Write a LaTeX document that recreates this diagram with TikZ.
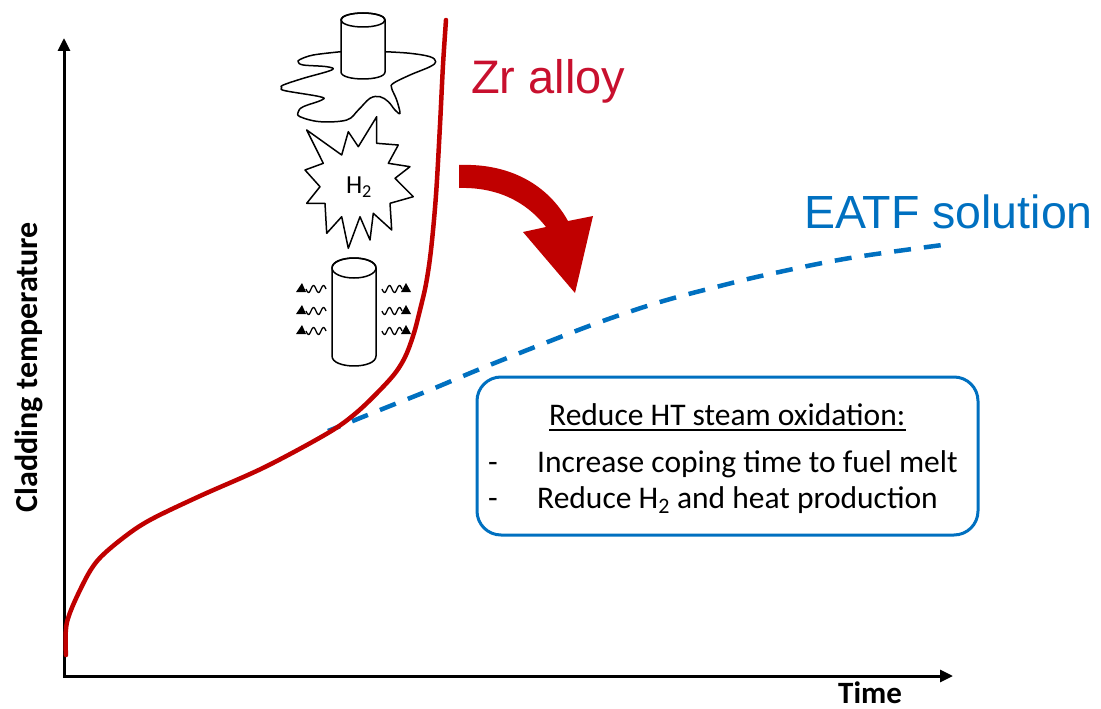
\documentclass[tikz,border=0pt]{standalone}
\usepackage{fontspec}
\setmainfont{Carlito}
\newfontfamily\arialf{Liberation Sans}
\usetikzlibrary{arrows.meta,calc}
\definecolor{cvred}{RGB}{192,0,0}
\definecolor{txred}{RGB}{200,16,46}
\definecolor{cvblue}{RGB}{0,112,192}
\tikzset{
  axisline/.style={line width=3pt, -{Triangle[length=13pt,width=12pt]}},
  icon/.style={line width=1.5pt, black, line join=round},
  wavy/.style={line width=1.3pt, black},
  boxtext/.style={inner sep=0pt, font=\fontsize{31.5}{34}\selectfont, anchor=base west},
}
\begin{document}
\begin{tikzpicture}[x=1pt,y=-1pt]
\useasboundingbox (0,0) rectangle (1101,709);
% axes
\coordinate (o) at (64,676);
\coordinate (ytip) at (64,38);
\coordinate (xtip) at (953,676);
\draw[axisline] (o) -- (ytip);
\draw[axisline] (o) -- (xtip);
\draw[line width=3pt] (64,677.5) -- (64,674);
\node[inner sep=0pt, anchor=base west, font=\bfseries\fontsize{31}{34}\selectfont] (time) at (838,703) {Time};
\node[inner sep=0pt, anchor=base, rotate=90, font=\bfseries\fontsize{32}{35}\selectfont] (ylab) at (37,367) {Cladding temperature};

% blue dashed EATF curve
\draw[cvblue, line width=4.5pt, dash pattern=on 17pt off 13pt, dash phase=4pt]
  plot[smooth, tension=0.6] coordinates {(328,431) (380,410) (430,390) (480,369) (540,345) (600,322) (660,302) (720,286) (770,274) (850,258) (950,244)};

% red Zr curve
\draw[cvred, line width=4.5pt, line cap=round]
  plot[smooth, tension=0.55] coordinates {(66,655) (67,622) (83,584) (98,560) (123,538) (150,520) (200,496) (265,467) (328,433) (356,413) (380,390) (396,372) (406,355) (414,333) (420,310) (426,284) (431,250) (436,195) (440,125) (443,65) (446,20)};

% labels
\node[inner sep=0pt, anchor=base west, text=txred, font=\arialf\fontsize{47}{50}\selectfont] (zr) at (471,93) {Zr alloy};
\node[inner sep=0pt, anchor=base west, text=cvblue, font=\arialf\fontsize{46.5}{50}\selectfont] (eatf) at (804,228) {EATF solution};

% big red curved arrow
\fill[cvred] (459,165) .. controls (510,163) and (548,185) .. (568,221)
  -- (593,216) -- (575,293) -- (523,232) -- (546,227)
  .. controls (525,200) and (495,187) .. (459,188) -- cycle;

% box
\draw[cvblue, line width=3pt, rounded corners=24pt] (477,377) rectangle (978,535);
\node[boxtext] (title) at (549,425) {Reduce HT steam oxidation:};
\draw[line width=1.5pt] ($(title.base west)+(0,5)$) -- ($(title.base east)+(0,5)$);
\node[boxtext] (d1) at (488,472) {-};
\node[boxtext] (l1) at (537,472) {Increase coping time to fuel melt};
\node[boxtext] (d2) at (488,508) {-};
\node[boxtext] (l2) at (537,508) {Reduce H\textsubscript{2} and heat production};

% top icon: puddle + cylinder
\draw[icon] plot[smooth, tension=0.6] coordinates {(341,51.7) (313.3,55) (300,59.5) (298.3,62) (303.3,65) (326.7,66.7) (331.7,70) (303.3,78.3) (283.3,85) (281.7,87.8) (285,90.7) (320,96.7) (321.7,100) (303.3,106.7) (298.3,111.7) (300,116.7) (320,121.7) (346.7,120) (358.3,110) (370,98.3) (380,96.7) (388.3,101.7) (395,110) (400,113.3) (396.7,100) (391.7,88.3) (393.3,83.3) (410,75) (430,66.7) (435.7,61.7) (430,56.7) (410,53.3) (385,51.7)};
\filldraw[icon, fill=white] (341,20) -- (341,72) .. controls (341,81.3) and (385,81.3) .. (385,72) -- (385,20) .. controls (385,10.7) and (341,10.7) .. (341,20) -- cycle;
\draw[icon] (363,20) ellipse [x radius=22, y radius=7];

% star
\filldraw[icon, fill=white] (306.7,130) -- (341.7,155) -- (348.3,131.7) -- (358.3,146.7) -- (376.7,116.7) -- (376.7,143.3) -- (398.3,145) -- (388.3,163.3) -- (410,166.7) -- (395,178.3) -- (413.3,196.7) -- (390,203.3) -- (391.7,230) -- (373.3,213.3) -- (370,240) -- (360,216.7) -- (348.3,248.3) -- (341.7,216.7) -- (326.7,233.3) -- (325,203.3) -- (306.7,203.3) -- (320,186.7) -- (305,170) -- (323.3,163.3) -- cycle;
\node[inner sep=0pt, font=\fontsize{26}{28}\selectfont] (h2) at (359,187) {H\textsubscript{2}};

% lower cylinder
\filldraw[icon, fill=white] (332,268) -- (332,356) .. controls (332,369.3) and (376,369.3) .. (376,356) -- (376,268) .. controls (376,254.7) and (332,254.7) .. (332,268) -- cycle;
\draw[icon] (354,268) ellipse [x radius=22, y radius=10];

% heat waves
\foreach \yy in {288,310,330} {
  \fill (296,\yy+4) -- (306,\yy+4) -- (302,\yy-5) -- cycle;
  \draw[wavy] plot[domain=0:20, samples=41, smooth] ({306+\x},{\yy+1+3.5*sin(\x*36)});
  \draw[wavy] plot[domain=0:20, samples=41, smooth] ({382+\x},{\yy+1+3.5*sin(\x*36)});
  \fill (401,\yy+4) -- (411,\yy+4) -- (406,\yy-5) -- cycle;
}
\end{tikzpicture}
\end{document}
